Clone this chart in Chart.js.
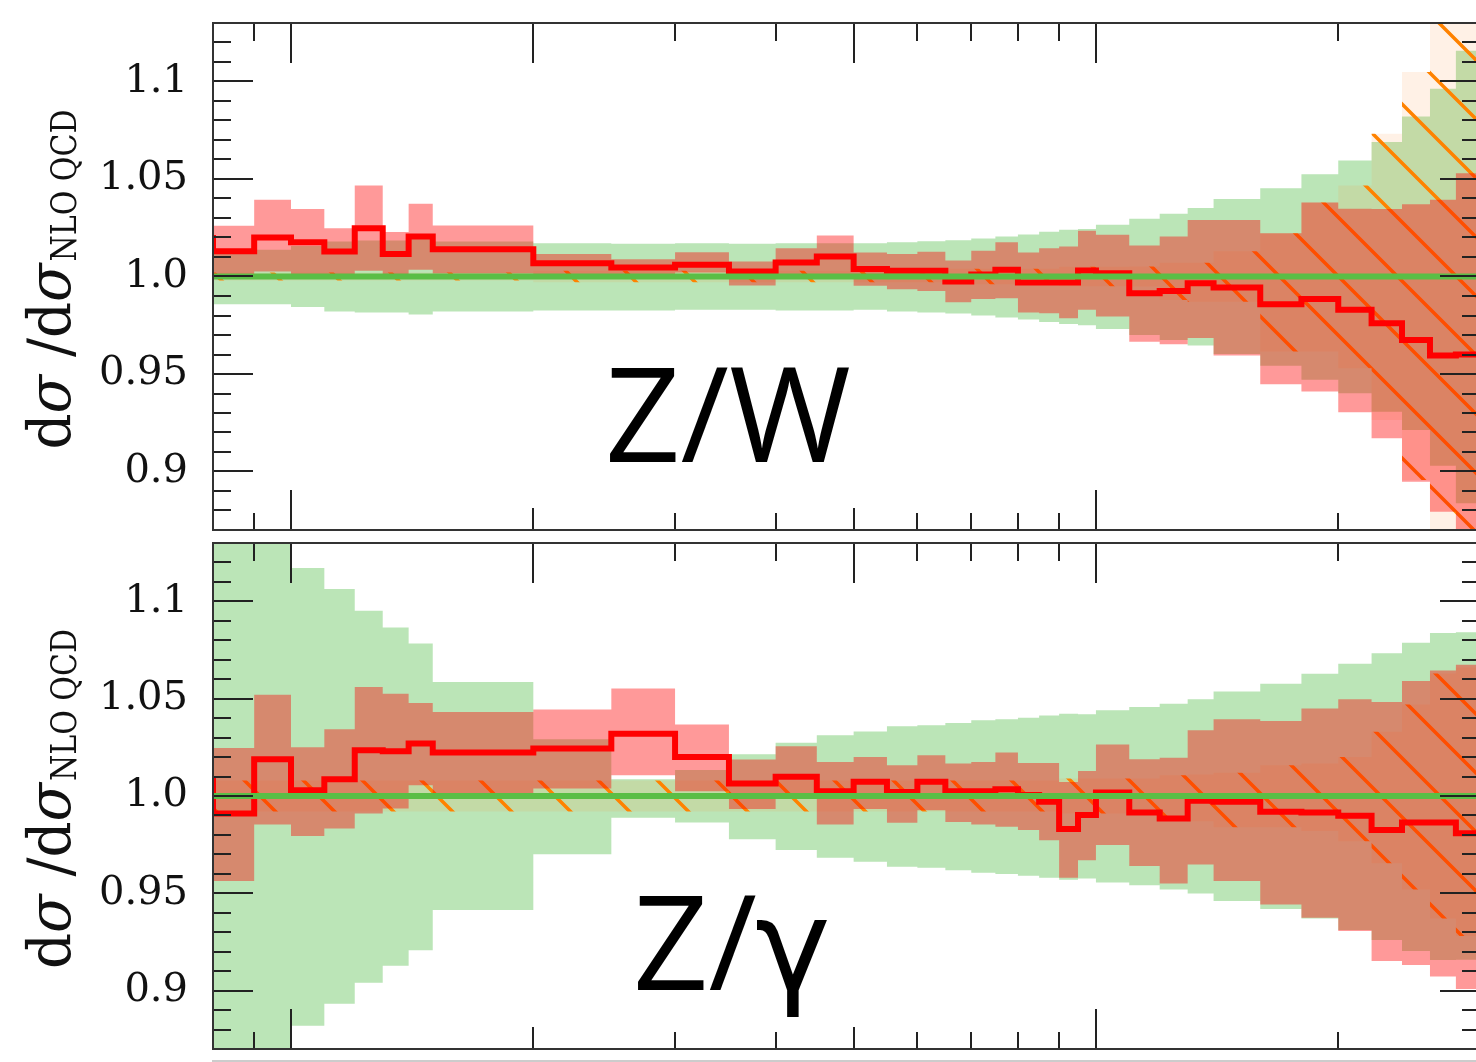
<!DOCTYPE html>
<html>
<head>
<meta charset="utf-8">
<script src="https://cdn.jsdelivr.net/npm/chart.js@4.4.1/dist/chart.umd.min.js"></script>
<style>
  html, body { margin: 0; padding: 0; background: #fff; overflow: hidden; width: 1476px; height: 1062px; }
  canvas { position: absolute; left: 0; }
  #panelTop { top: 0; }
  #panelBottom { top: 536px; }
</style>
</head>
<body>
<canvas id="panelTop" width="1480" height="540"></canvas>
<canvas id="panelBottom" width="1480" height="526"></canvas>
<script>
// ======== Data ========

// bin edges (log x axis)
const binEdges = [80, 90, 100, 110, 120, 130, 140, 150, 200, 250, 300, 350, 400, 450, 500, 550, 600, 650, 700, 750,
  800, 850, 900, 950, 1000, 1100, 1200, 1300, 1400, 1600, 1800, 2000, 2200, 2400, 2600, 2800, 3000];

// y tick labels
const yTickValues = [0.9, 0.95, 1.0, 1.05, 1.1];
const yTickLabels = ['0.9', '0.95', '1.0', '1.05', '1.1'];

// x tick marks (no labels)
const xTickValues = [90, 100, 200, 300, 400, 500, 600, 700, 800, 900, 1000, 2000];
const xTopLong = [100, 200, 500, 1000];
const xBottomLong = [100, 1000];
const xBottomMid = [200, 500];

// --- Z/W panel ---
const zwCentral = [1.013, 1.020, 1.0176, 1.0128, 1.0248, 1.0115, 1.0205, 1.014, 1.0068, 1.0046,
  1.006, 1.0026, 1.0072, 1.0103, 1.0039, 1.0029, 1.0029, 0.9974, 1.001, 1.0034,
  0.9969, 0.9969, 0.9969, 1.0031, 1.0017, 0.9914, 0.9926, 0.9965, 0.9944, 0.9858,
  0.9884, 0.9829, 0.976, 0.9675, 0.9595, 0.960];
const zwPrevBin = 1.0197;
const zwRedHi = [1.026, 1.0393, 1.0346, 1.0248, 1.0467, 1.0228, 1.0373, 1.0262, 1.0115, 1.0089,
  1.0125, 1.0077, 1.0145, 1.021, 1.0123, 1.0115, 1.0127, 1.0082, 1.0132, 1.0176,
  1.0123, 1.0145, 1.0154, 1.0234, 1.0214, 1.0159, 1.0205, 1.029, 1.029, 1.0222,
  1.0379, 1.0347, 1.0346, 1.0371, 1.0393, 1.053];
const zwRedLo = [1.000, 1.0026, 1.000, 1.000, 1.003, 1.000, 1.0034, 1.0015, 1.0005, 1.000,
  1.002, 0.9954, 0.999, 1.000, 0.9952, 0.9935, 0.9926, 0.9868, 0.9885, 0.9889,
  0.9815, 0.9812, 0.9786, 0.9829, 0.9795, 0.9666, 0.9653, 0.9684, 0.9595, 0.9447,
  0.941, 0.9304, 0.917, 0.8948, 0.8794, 0.85];
const zwGreenHi = [1.014, 1.0137, 1.0156, 1.018, 1.0185, 1.0185, 1.0195, 1.018, 1.0171, 1.0168,
  1.017, 1.0168, 1.017, 1.0171, 1.0171, 1.0176, 1.0181, 1.0186, 1.0195, 1.0205,
  1.0216, 1.0229, 1.024, 1.0243, 1.0265, 1.0296, 1.0322, 1.0351, 1.0398, 1.0453,
  1.0525, 1.0595, 1.069, 1.0821, 1.0963, 1.1158];
const zwGreenLo = [0.9858, 0.9858, 0.9844, 0.982, 0.9815, 0.9815, 0.9805, 0.982, 0.9826, 0.9826,
  0.983, 0.983, 0.9826, 0.9826, 0.9829, 0.982, 0.9815, 0.981, 0.980, 0.979,
  0.978, 0.9767, 0.9757, 0.975, 0.9731, 0.970, 0.9675, 0.9646, 0.9602, 0.9542,
  0.947, 0.9401, 0.9307, 0.9213, 0.903, 0.8837];
const zwHatchHi = [1.002, 1.002, 1.002, 1.002, 1.002, 1.002, 1.002, 1.002, 1.003, 1.003,
  1.003, 1.003, 1.003, 1.003, 1.003, 1.003, 1.003, 1.004, 1.004, 1.004,
  1.004, 1.004, 1.005, 1.005, 1.005, 1.0051, 1.007, 1.007, 1.013, 1.0222,
  1.038, 1.0467, 1.0732, 1.1049, 1.14, 1.15];
const zwHatchLo = [0.998, 0.998, 0.998, 0.998, 0.998, 0.998, 0.998, 0.998, 0.997, 0.997,
  0.997, 0.997, 0.997, 0.997, 0.997, 0.997, 0.997, 0.996, 0.996, 0.996,
  0.996, 0.996, 0.995, 0.995, 0.995, 0.9949, 0.988, 0.987, 0.987, 0.9615,
  0.9615, 0.953, 0.9264, 0.8957, 0.86, 0.85];

// --- Z/gamma panel ---
const zgCentral = [0.991, 1.0189, 1.003, 1.0086, 1.0235, 1.023, 1.027, 1.0223, 1.0244, 1.032,
  1.0201, 1.0064, 1.0099, 1.0025, 1.0073, 1.0021, 1.0073, 1.0025, 1.0025, 1.0035,
  1.0005, 0.997, 0.983, 0.9902, 1.0018, 0.9915, 0.9885, 0.9975, 0.997, 0.9919,
  0.9915, 0.9898, 0.9825, 0.9864, 0.9864, 0.9808];
const zgPrevBin = 1.008;
const zgRedHi = [1.0247, 1.052, 1.025, 1.0343, 1.056, 1.0526, 1.0478, 1.0432, 1.0445, 1.0552,
  1.0367, 1.0188, 1.0255, 1.0175, 1.0201, 1.0158, 1.021, 1.0167, 1.0175, 1.0223,
  1.017, 1.017, 1.0072, 1.0129, 1.0264, 1.0189, 1.0196, 1.0338, 1.0394, 1.0386,
  1.0449, 1.0497, 1.0483, 1.0591, 1.0645, 1.0674];
const zgRedLo = [0.9563, 0.9853, 0.9794, 0.9833, 0.991, 0.9936, 1.0055, 1.0013, 1.0038, 1.0107,
  1.0025, 0.9933, 1.000, 0.9854, 0.9933, 0.9862, 0.9927, 0.9867, 0.9854, 0.9842,
  0.9825, 0.9773, 0.958, 0.967, 0.9748, 0.964, 0.9551, 0.9648, 0.9563, 0.9443,
  0.9375, 0.9306, 0.9152, 0.9131, 0.9072, 0.9008];
const zgGreenHi = [1.16, 1.16, 1.1172, 1.1063, 1.0952, 1.0866, 1.0784, 1.0586, 1.0291, 1.0086,
  1.0133, 1.0214, 1.0274, 1.0312, 1.0332, 1.0358, 1.0363, 1.0375, 1.0389, 1.0394,
  1.0402, 1.0414, 1.0423, 1.042, 1.044, 1.0457, 1.0474, 1.0497, 1.0537, 1.0577,
  1.0628, 1.068, 1.0734, 1.0787, 1.0837, 1.0842];
const zgGreenLo = [0.84, 0.84, 0.882, 0.8932, 0.9041, 0.9128, 0.9208, 0.9414, 0.9701, 0.9888,
  0.9864, 0.9778, 0.9722, 0.9683, 0.9662, 0.9636, 0.9631, 0.9619, 0.9606, 0.9599,
  0.959, 0.958, 0.957, 0.9576, 0.9556, 0.9542, 0.952, 0.9499, 0.946, 0.9419,
  0.9371, 0.9311, 0.926, 0.9203, 0.9157, 0.9158];
const zgHatchHi = [1.008, 1.008, 1.008, 1.008, 1.008, 1.008, 1.008, 1.008, 1.008, 1.008,
  1.008, 1.008, 1.008, 1.008, 1.008, 1.008, 1.008, 1.008, 1.008, 1.008,
  1.008, 1.008, 1.009, 1.009, 1.009, 1.009, 1.0107, 1.011, 1.012, 1.0158,
  1.0167, 1.0201, 1.033, 1.047, 1.063, 1.066];
const zgHatchLo = [0.992, 0.992, 0.992, 0.992, 0.992, 0.992, 0.992, 0.992, 0.992, 0.992,
  0.992, 0.992, 0.992, 0.992, 0.992, 0.992, 0.992, 0.992, 0.992, 0.992,
  0.992, 0.992, 0.991, 0.991, 0.991, 0.991, 0.9876, 0.987, 0.984, 0.984,
  0.982, 0.9768, 0.9654, 0.952, 0.937, 0.928];

// ======== Helpers ========

// turn per-bin values into step points (one point per edge, last value repeated)
function stepPoints(values, prevValue) {
  const pts = binEdges.map((e, i) => ({ x: e, y: values[Math.min(i, values.length - 1)] }));
  if (prevValue !== undefined) pts.unshift({ x: 70, y: prevValue });
  return pts;
}

function hatchPattern(ctx) {
  const size = 59;
  const tile = document.createElement('canvas');
  tile.width = size;
  tile.height = size;
  const c = tile.getContext('2d');
  c.fillStyle = 'rgba(255,140,50,0.12)';
  c.fillRect(0, 0, size, size);
  c.strokeStyle = 'rgb(255,130,0)';
  c.lineWidth = 3.5;
  c.beginPath();
  c.moveTo(-6, -6); c.lineTo(size + 6, size + 6);
  c.moveTo(-6, size - 6); c.lineTo(6, size + 6);
  c.moveTo(size - 6, -6); c.lineTo(size + 6, 6);
  c.stroke();
  return ctx.createPattern(tile, 'repeat');
}

// draw a run of text pieces squeezed/stretched to a target length
function drawRun(ctx, parts, startX, target) {
  let total = 0;
  parts.forEach((p) => { ctx.font = p.f; p.w = ctx.measureText(p.t).width; total += p.w; });
  const k = target / total;
  ctx.save();
  ctx.translate(startX, 0);
  ctx.scale(k, 1);
  let cx = 0;
  parts.forEach((p) => { ctx.font = p.f; ctx.fillText(p.t, cx, p.dy); cx += p.w; });
  ctx.restore();
}

// frame, tick marks, axis title and panel label
const panelDeco = {
  id: 'panelDeco',
  afterDraw(chart, args, opts) {
    const { ctx, chartArea: a } = chart;
    const x = chart.scales.x;
    const y = chart.scales.y;
    ctx.save();

    ctx.strokeStyle = '#222';
    ctx.lineWidth = 2;
    ctx.beginPath();
    for (let i = 87; i <= 113; i++) {
      const py = Math.round(y.getPixelForValue(i / 100));
      const len = i % 5 === 0 ? 40 : 18;
      ctx.moveTo(a.left, py); ctx.lineTo(a.left + len, py);
      ctx.moveTo(a.right, py); ctx.lineTo(a.right - len, py);
    }
    xTickValues.forEach((v) => {
      const px = Math.round(x.getPixelForValue(v));
      const topLen = xTopLong.includes(v) ? 40 : 18;
      const botLen = xBottomLong.includes(v) ? 40 : (xBottomMid.includes(v) ? 22 : 17);
      ctx.moveTo(px, a.top); ctx.lineTo(px, a.top + topLen);
      ctx.moveTo(px, a.bottom); ctx.lineTo(px, a.bottom - botLen);
    });
    ctx.stroke();

    ctx.strokeStyle = '#333';
    ctx.lineWidth = 2;
    ctx.strokeRect(a.left, a.top, a.right - a.left, a.bottom - a.top);

    // y axis title: d sigma / d sigma_{NLO QCD}
    const cy = (a.top + a.bottom) / 2;
    ctx.translate(70, cy);
    ctx.rotate(-Math.PI / 2);
    ctx.fillStyle = '#111';
    ctx.textBaseline = 'alphabetic';
    ctx.textAlign = 'left';
    const mainLen = 186;
    const subLen = 152;
    const start = -(mainLen + subLen) / 2 - 4;
    drawRun(ctx, [
      { t: 'd', f: '60px "DejaVu Serif"', dy: 0 },
      { t: 'σ', f: 'italic 60px "DejaVu Serif"', dy: 0 },
      { t: ' /', f: '60px "DejaVu Serif"', dy: 0 },
      { t: 'd', f: '60px "DejaVu Serif"', dy: 0 },
      { t: 'σ', f: 'italic 60px "DejaVu Serif"', dy: 0 },
    ], start, mainLen);
    drawRun(ctx, [{ t: 'NLO QCD', f: '36px "DejaVu Serif"', dy: 6 }], start + mainLen + 2, subLen);
    ctx.setTransform(1, 0, 0, 1, 0, 0);

    // big process label
    ctx.fillStyle = '#000';
    ctx.font = '132px "Open Sans"';
    ctx.fillText(opts.label, opts.labelX, opts.labelY);
    if (opts.greek) {
      const w = ctx.measureText(opts.label).width;
      ctx.font = '128px "DejaVu Sans"';
      ctx.fillText(opts.greek, opts.labelX + w - 2, opts.labelY);
    }

    if (opts.bottomRule) {
      ctx.strokeStyle = '#ccc';
      ctx.lineWidth = 2;
      ctx.beginPath();
      ctx.moveTo(a.left - 1, chart.height - 1);
      ctx.lineTo(chart.width, chart.height - 1);
      ctx.stroke();
    }
    ctx.restore();
  },
};

// ======== Build one panel ========
function criarPainel(canvasId, d, deco, padding) {
  const canvas = document.getElementById(canvasId);
  const ctx = canvas.getContext('2d');
  const hatch = hatchPattern(ctx);
  const band = (data, extra) => Object.assign({
    data, stepped: true, borderWidth: 0, borderColor: 'transparent', pointRadius: 0, clip: 0, order: 10, fill: false,
  }, extra);

  return new Chart(ctx, {
    type: 'line',
    data: {
      datasets: [
        band(stepPoints(d.greenLo)),
        band(stepPoints(d.greenHi), { fill: { target: 0 }, backgroundColor: 'rgba(60,180,50,0.35)', order: 5 }),
        band(stepPoints(d.hatchLo)),
        band(stepPoints(d.hatchHi), { fill: { target: 2 }, backgroundColor: hatch, order: 4 }),
        band(stepPoints(d.redLo)),
        band(stepPoints(d.redHi), { fill: { target: 4 }, backgroundColor: 'rgba(255,0,0,0.4)', order: 3 }),
        {
          data: stepPoints(d.central, d.prev), stepped: true, borderColor: '#ff0000', borderWidth: 6,
          pointRadius: 0, fill: false, clip: 0, order: 2,
        },
        {
          data: [{ x: binEdges[0], y: 1 }, { x: binEdges[binEdges.length - 1], y: 1 }],
          borderColor: 'rgb(90,190,70)', borderWidth: 6, pointRadius: 0, fill: false, clip: 0, order: 1,
        },
      ],
    },
    options: {
      responsive: false,
      animation: false,
      layout: { padding },
      plugins: {
        legend: { display: false },
        tooltip: { enabled: false },
        panelDeco: deco,
      },
      scales: {
        x: { type: 'logarithmic', min: binEdges[0], max: binEdges[binEdges.length - 1], display: false },
        y: {
          min: 0.87,
          max: 1.13,
          position: 'left',
          grid: { display: false, drawTicks: false },
          border: { display: false },
          afterBuildTicks: (s) => { s.ticks = yTickValues.map((v) => ({ value: v })); },
          afterFit: (s) => { s.width = 213; s.paddingTop = 0; s.paddingBottom = 0; },
          ticks: {
            padding: 25,
            color: '#111',
            font: { family: 'DejaVu Serif', size: 40 },
            callback: (v, i) => yTickLabels[i],
          },
        },
      },
    },
    plugins: [panelDeco],
  });
}

criarPainel('panelTop', {
  central: zwCentral, prev: zwPrevBin, redHi: zwRedHi, redLo: zwRedLo,
  greenHi: zwGreenHi, greenLo: zwGreenLo, hatchHi: zwHatchHi, hatchLo: zwHatchLo,
}, { label: 'Z/W', labelX: 605, labelY: 462 }, { top: 23, bottom: 10, left: 0, right: 0 });

criarPainel('panelBottom', {
  central: zgCentral, prev: zgPrevBin, redHi: zgRedHi, redLo: zgRedLo,
  greenHi: zgGreenHi, greenLo: zgGreenLo, hatchHi: zgHatchHi, hatchLo: zgHatchLo,
}, { label: 'Z/', greek: 'γ', labelX: 633, labelY: 454, bottomRule: true }, { top: 7, bottom: 13, left: 0, right: 0 });
</script>
</body>
</html>
